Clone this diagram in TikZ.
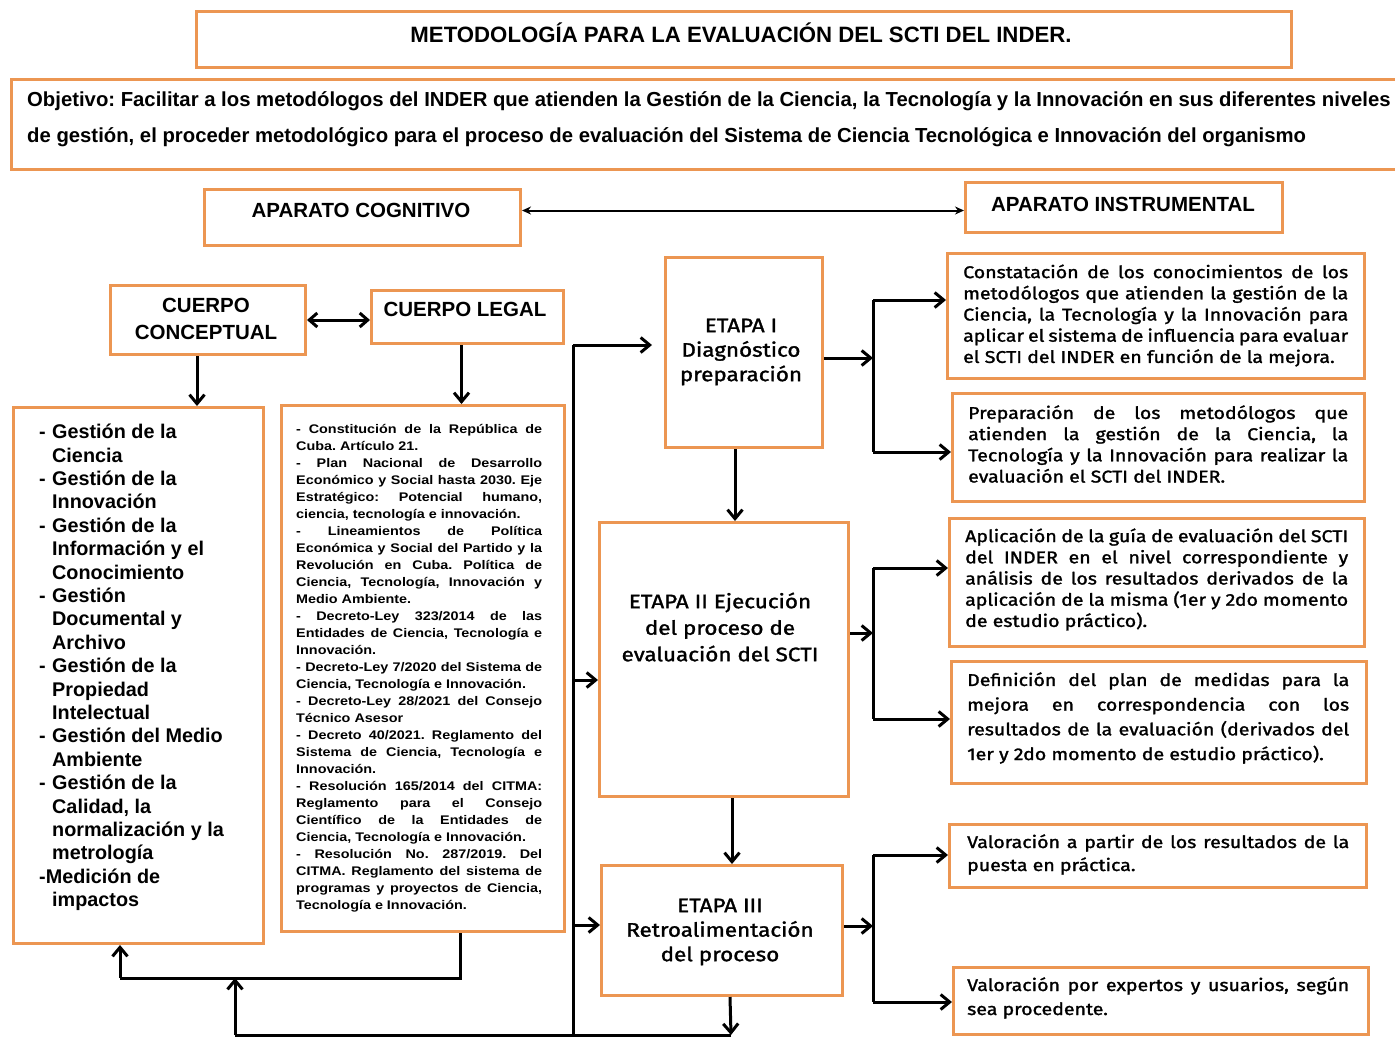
\documentclass[tikz,border=0pt]{standalone}
\usepackage{fontspec}
\setmainfont{Liberation Sans}
\newfontfamily\fira[FakeBold=1.5, FakeStretch=1.15]{Fira Sans}
\newfontfamily\legalfont[FakeStretch=1.15]{Liberation Sans}
\usetikzlibrary{arrows.meta}
\definecolor{boxor}{RGB}{236,150,82}
\tikzset{
  box/.style={draw=boxor, line width=3pt, fill=white, inner sep=0pt, anchor=north west},
  arr/.style={line width=3pt, -{Straight Barb[length=9pt,width=15pt]}},
  dblarr/.style={line width=3pt, {Straight Barb[length=8pt,width=14pt]}-{Straight Barb[length=8pt,width=14pt]}},
  thinarr/.style={line width=2pt, {Stealth[length=9pt,width=8pt]}-{Stealth[length=9pt,width=8pt]}},
  wire/.style={line width=3pt},
  lbl/.style={inner sep=0pt, font=\bfseries\fontsize{20.5}{27}\selectfont, align=center},
  etp/.style={inner sep=0pt, font=\fira\fontsize{19.5}{24.5}\selectfont, align=center},
  jtext/.style={inner sep=0pt, anchor=west, align=justify, font=\fira\fontsize{17}{21.2}\selectfont,
    execute at begin node={\frenchspacing\tolerance=10000\hyphenpenalty=10000\exhyphenpenalty=10000}},
}
\begin{document}
\begin{tikzpicture}[x=1pt,y=-1pt]
\useasboundingbox (0,0) rectangle (1395,1037);
\fill[white] (0,0) rectangle (1395,1037);

% title and objective
\node[box, minimum width=1095pt, minimum height=56pt] (title) at (195,10) {};
\node[inner sep=0pt, font=\bfseries\fontsize{22.2}{26}\selectfont] (titlet) at (741,33) {METODOLOGÍA PARA LA EVALUACIÓN DEL SCTI DEL INDER.};
\node[box, minimum width=1420pt, minimum height=90pt] (obj) at (10,78) {};
\node[inner sep=0pt, anchor=west, align=left, font=\bfseries\fontsize{20.3}{36}\selectfont,
  execute at begin node={\frenchspacing}] (objt) at (27,119)
  {Objetivo: Facilitar a los metodólogos del INDER que atienden la Gestión de la Ciencia, la Tecnología y la Innovación en sus diferentes niveles\\
   de gestión, el proceder metodológico para el proceso de evaluación del Sistema de Ciencia Tecnológica e Innovación del organismo};

% aparatos
\node[box, minimum width=316pt, minimum height=56pt] (apc) at (203,188) {};
\node[lbl] (apct) at (361,210) {APARATO COGNITIVO};
\node[box, minimum width=317pt, minimum height=50pt] (api) at (964,181) {};
\node[lbl] (apit) at (1123,204) {APARATO INSTRUMENTAL};
\draw[thinarr] ([yshift=7pt]apc.east) -- ([yshift=7pt]apc.east -| api.west);

% cuerpos
\node[box, minimum width=195pt, minimum height=69pt] (cc) at (109,284) {};
\node[lbl] (cct) at (206,318.5) {CUERPO\\CONCEPTUAL};
\node[box, minimum width=192pt, minimum height=53pt] (cl) at (370,289) {};
\node[lbl] (clt) at (465,309) {CUERPO LEGAL};
\draw[dblarr] (cc.east) -- (cc.east -| cl.west);

% conceptual list
\node[box, minimum width=250pt, minimum height=536pt] (lc) at (12,406) {};
\node[inner sep=0pt, anchor=north west, align=left, font=\bfseries\fontsize{19.8}{23.4}\selectfont] (lct) at (39,424)
 {\makebox[13pt][l]{-}Gestión de la\\
  \hspace*{13pt}Ciencia\\
  \makebox[13pt][l]{-}Gestión de la\\
  \hspace*{13pt}Innovación\\
  \makebox[13pt][l]{-}Gestión de la\\
  \hspace*{13pt}Información y el\\
  \hspace*{13pt}Conocimiento\\
  \makebox[13pt][l]{-}Gestión\\
  \hspace*{13pt}Documental y\\
  \hspace*{13pt}Archivo\\
  \makebox[13pt][l]{-}Gestión de la\\
  \hspace*{13pt}Propiedad\\
  \hspace*{13pt}Intelectual\\
  \makebox[13pt][l]{-}Gestión del Medio\\
  \hspace*{13pt}Ambiente\\
  \makebox[13pt][l]{-}Gestión de la\\
  \hspace*{13pt}Calidad, la\\
  \hspace*{13pt}normalización y la\\
  \hspace*{13pt}metrología\\
  -Medición de\\
  \hspace*{13pt}impactos};

% legal list
\node[box, minimum width=283pt, minimum height=526pt] (lg) at (280,404) {};
\node[inner sep=0pt, anchor=north west, text width=246pt, align=justify,
  font=\legalfont\bfseries\fontsize{12.5}{17}\selectfont,
  execute at begin node={\frenchspacing\tolerance=10000\hyphenpenalty=10000\exhyphenpenalty=10000}] (lgt) at (296,424)
 {- Constitución de la República de\linebreak Cuba. Artículo 21.\par
  - Plan Nacional de Desarrollo\linebreak Económico y Social hasta 2030. Eje\linebreak Estratégico: Potencial humano,\linebreak ciencia, tecnología e innovación.\par
  - Lineamientos de Política\linebreak Económica y Social del Partido y la\linebreak Revolución en Cuba. Política de\linebreak Ciencia, Tecnología, Innovación y\linebreak Medio Ambiente.\par
  - Decreto-Ley 323/2014 de las\linebreak Entidades de Ciencia, Tecnología e\linebreak Innovación.\par
  - Decreto-Ley 7/2020 del Sistema de\linebreak Ciencia, Tecnología e Innovación.\par
  - Decreto-Ley 28/2021 del Consejo\linebreak Técnico Asesor\par
  - Decreto 40/2021. Reglamento del\linebreak Sistema de Ciencia, Tecnología e\linebreak Innovación.\par
  - Resolución 165/2014 del CITMA:\linebreak Reglamento para el Consejo\linebreak Científico de la Entidades de\linebreak Ciencia, Tecnología e Innovación.\par
  - Resolución No. 287/2019. Del\linebreak CITMA. Reglamento del sistema de\linebreak programas y proyectos de Ciencia,\linebreak Tecnología e Innovación.};

\draw[arr] ([xshift=-11pt]cc.south) -- ([xshift=-11pt]cc.south |- lc.north);
\draw[arr] ([xshift=-6pt]cl.south) -- ([xshift=-6pt]cl.south |- lg.north);

% etapas
\node[box, minimum width=157pt, minimum height=190pt] (et1) at (664,256) {};
\node[etp] (et1t) at (741,352) {ETAPA I\\Diagnóstico\\preparación};
\node[box, minimum width=249pt, minimum height=274pt] (et2) at (598,521) {};
\node[etp, font=\fira\fontsize{19.5}{26.5}\selectfont] (et2t) at (720,627) {ETAPA II Ejecución\\del proceso de\\evaluación del SCTI};
\node[box, minimum width=241pt, minimum height=130pt] (et3) at (600,864) {};
\node[etp] (et3t) at (720,932) {ETAPA III\\Retroalimentación\\del proceso};

\draw[arr] ([xshift=-9pt]et1.south) -- ([xshift=-9pt]et1.south |- et2.north);
\draw[arr] ([xshift=8pt]et2.south) -- ([xshift=8pt]et2.south |- et3.north);

% left bus and feedback
\coordinate (bustop) at (573,345);
\coordinate (busbot) at (573,1035);
\coordinate (fbR) at (731,1035);
\coordinate (fbL) at (235,1035);
\coordinate (fbmid) at (235,978);
\coordinate (lgdown) at (460,978);
\coordinate (lcup) at (120,978);
\draw[wire] (bustop) -- (busbot);
\draw[arr, shorten >=12pt] (bustop) -- (bustop -| et1.west);
\draw[arr] (573,680) -- (573,680 -| et2.west);
\draw[arr] (573,925) -- (573,925 -| et3.west);
\draw[arr] ([xshift=8pt]et3.south) -- (fbR);
\draw[wire] (fbR) -- (fbL);
\draw[arr] (fbL) -- (fbmid);
\draw[wire] (lg.south -| lgdown) -- (lgdown) -- (lcup);
\draw[arr] (lcup) -- (lcup |- lc.south);

% right boxes
\node[box, minimum width=417pt, minimum height=125pt] (r1) at (946,252) {};
\node[jtext, text width=385pt] (r1t) at (963,315.5) {Constatación de los conocimientos de los\linebreak metodólogos que atienden la gestión de la\linebreak Ciencia, la Tecnología y la Innovación para\linebreak aplicar el sistema de influencia para evaluar\linebreak el SCTI del INDER en función de la mejora.};
\node[box, minimum width=412pt, minimum height=108pt] (r2) at (951,392) {};
\node[jtext, text width=380pt] (r2t) at (968,444) {Preparación de los metodólogos que\linebreak atienden la gestión de la Ciencia, la\linebreak Tecnología y la Innovación para realizar la\linebreak evaluación el SCTI del INDER.};
\node[box, minimum width=415pt, minimum height=128pt] (r3) at (948,517) {};
\node[jtext, text width=383pt] (r3t) at (965,579.5) {Aplicación de la guía de evaluación del SCTI\linebreak del INDER en el nivel correspondiente y\linebreak análisis de los resultados derivados de la\linebreak aplicación de la misma (1er y 2do momento\linebreak de estudio práctico).};
\node[box, minimum width=415pt, minimum height=122pt] (r4) at (950,660) {};
\node[jtext, text width=382pt, font=\fira\fontsize{17}{24.7}\selectfont] (r4t) at (967,718) {Definición del plan de medidas para la\linebreak mejora en correspondencia con los\linebreak resultados de la evaluación (derivados del\linebreak 1er y 2do momento de estudio práctico).};
\node[box, minimum width=417pt, minimum height=63pt] (r5) at (948,823) {};
\node[jtext, text width=382pt, font=\fira\fontsize{17}{23}\selectfont] (r5t) at (967,854.5) {Valoración a partir de los resultados de la\linebreak puesta en práctica.};
\node[box, minimum width=415pt, minimum height=67pt] (r6) at (952,966) {};
\node[jtext, text width=382pt, font=\fira\fontsize{17}{24}\selectfont] (r6t) at (967,998) {Valoración por expertos y usuarios, según\linebreak sea procedente.};

% right branches
\coordinate (j1) at (873,358);
\coordinate (j2) at (873,633);
\coordinate (j3) at (873,926);
\draw[arr] (et1.east |- j1) -- (j1);
\draw[wire] (873,300) -- (873,452);
\draw[arr] (873,300) -- (873,300 -| r1.west);
\draw[arr] (873,452) -- (873,452 -| r2.west);
\draw[arr] (et2.east |- j2) -- (j2);
\draw[wire] (873,568) -- (873,719);
\draw[arr] (873,568) -- (873,568 -| r3.west);
\draw[arr] (873,719) -- (873,719 -| r4.west);
\draw[arr] (et3.east |- j3) -- (j3);
\draw[wire] (873,855) -- (873,1002);
\draw[arr] (873,855) -- (873,855 -| r5.west);
\draw[arr] (873,1002) -- (873,1002 -| r6.west);
\end{tikzpicture}
\end{document}
